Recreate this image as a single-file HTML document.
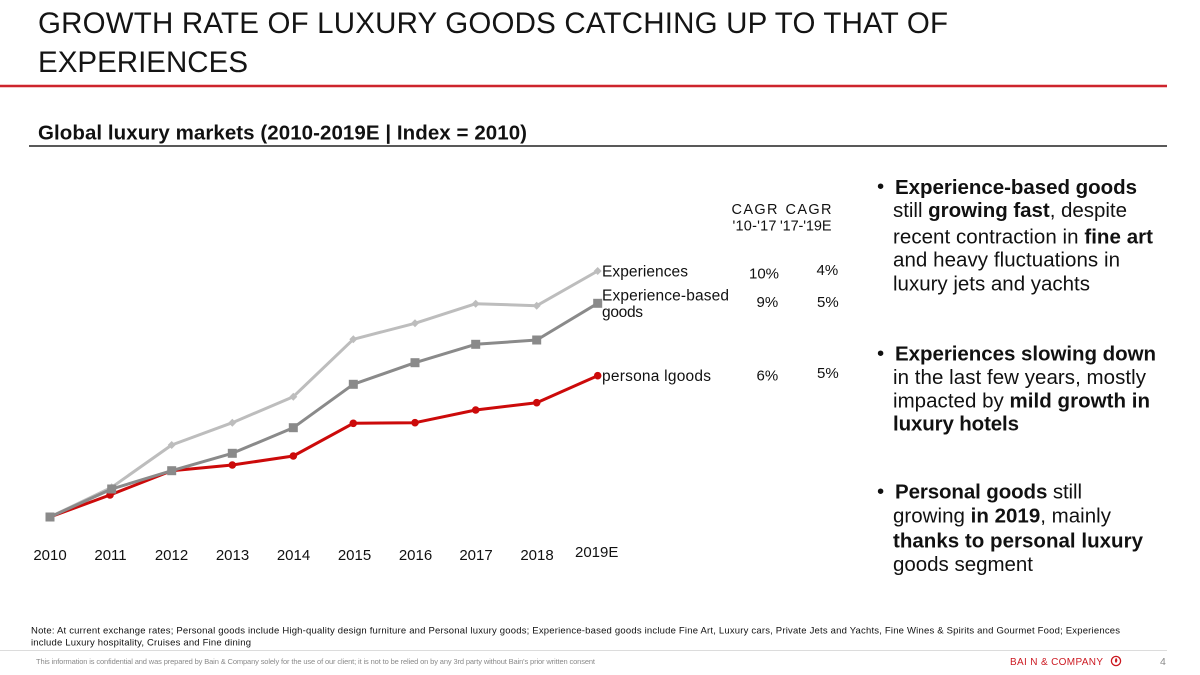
<!DOCTYPE html>
<html>
<head>
<meta charset="utf-8">
<style>
  html,body{margin:0;padding:0;background:#fff;}
  svg{display:block;}
  text{font-family:"Liberation Sans", Arial, sans-serif;}
</style>
</head>
<body>
<svg width="1200" height="675" viewBox="0 0 1200 675" xmlns="http://www.w3.org/2000/svg">
  <rect x="0" y="0" width="1200" height="675" fill="#ffffff"/>

  <!-- Title -->
  <text x="38" y="33" font-size="29.5" fill="#141414" textLength="910">GROWTH RATE OF LUXURY GOODS CATCHING UP TO THAT OF</text>
  <text x="38" y="72" font-size="29.5" fill="#141414" textLength="210">EXPERIENCES</text>

  <!-- red rule -->
  <line x1="0" y1="86" x2="1167" y2="86" stroke="#f0b4b4" stroke-width="3.5"/>
  <line x1="0" y1="86" x2="1167" y2="86" stroke="#c8101a" stroke-width="1.8"/>

  <!-- Subtitle -->
  <text x="38" y="139.5" font-size="20.5" font-weight="bold" fill="#111" textLength="489">Global luxury markets (2010-2019E | Index = 2010)</text>
  <line x1="29" y1="146" x2="1167" y2="146" stroke="#222" stroke-width="1.5"/>

  <!-- Experiences (light gray) -->
  <polyline fill="none" stroke="#bdbdbd" stroke-width="3" stroke-linejoin="round"
    points="50,517 111.7,487.3 171.7,445 232.3,422.7 293.3,396.7 353.3,339.3 415,323.3 475.7,303.7 536.7,305.7 597.7,271"/>
  <g fill="#bdbdbd">
    <path d="M50,513 L54,517 L50,521 L46,517 Z"/>
    <path d="M111.7,483.3 L115.7,487.3 L111.7,491.3 L107.7,487.3 Z"/>
    <path d="M171.7,441 L175.7,445 L171.7,449 L167.7,445 Z"/>
    <path d="M232.3,418.7 L236.3,422.7 L232.3,426.7 L228.3,422.7 Z"/>
    <path d="M293.3,392.7 L297.3,396.7 L293.3,400.7 L289.3,396.7 Z"/>
    <path d="M353.3,335.3 L357.3,339.3 L353.3,343.3 L349.3,339.3 Z"/>
    <path d="M415,319.3 L419,323.3 L415,327.3 L411,323.3 Z"/>
    <path d="M475.7,299.7 L479.7,303.7 L475.7,307.7 L471.7,303.7 Z"/>
    <path d="M536.7,301.7 L540.7,305.7 L536.7,309.7 L532.7,305.7 Z"/>
    <path d="M597.7,267 L601.7,271 L597.7,275 L593.7,271 Z"/>
  </g>

  <!-- Personal goods (red) -->
  <polyline fill="none" stroke="#cc0a0a" stroke-width="3" stroke-linejoin="round"
    points="50,517 110,495 171.7,470.7 232.3,465 293.3,456 353.3,423.3 415,422.7 475.7,410 536.7,402.7 597.7,375.7"/>
  <g fill="#cc0a0a">
    <circle cx="110" cy="495" r="3.8"/>
    <circle cx="232.3" cy="465" r="3.8"/>
    <circle cx="293.3" cy="456" r="3.8"/>
    <circle cx="353.3" cy="423.3" r="3.8"/>
    <circle cx="415" cy="422.7" r="3.8"/>
    <circle cx="475.7" cy="410" r="3.8"/>
    <circle cx="536.7" cy="402.7" r="3.8"/>
    <circle cx="597.7" cy="375.7" r="3.8"/>
  </g>

  <!-- Experience-based goods (mid gray) -->
  <polyline fill="none" stroke="#8a8a8a" stroke-width="3" stroke-linejoin="round"
    points="50,517 111.7,489 171.7,470.7 232.3,453.3 293.3,427.7 353.3,384.3 415,362.7 475.7,344.3 536.7,340 597.7,303.3"/>
  <g fill="#8a8a8a">
    <rect x="45.5" y="512.5" width="9" height="9"/>
    <rect x="107.2" y="484.5" width="9" height="9"/>
    <rect x="167.2" y="466.2" width="9" height="9"/>
    <rect x="227.8" y="448.8" width="9" height="9"/>
    <rect x="288.8" y="423.2" width="9" height="9"/>
    <rect x="348.8" y="379.8" width="9" height="9"/>
    <rect x="410.5" y="358.2" width="9" height="9"/>
    <rect x="471.2" y="339.8" width="9" height="9"/>
    <rect x="532.2" y="335.5" width="9" height="9"/>
    <rect x="593.2" y="298.8" width="9" height="9"/>
  </g>

  <!-- Year labels -->
  <g font-size="15" fill="#111" text-anchor="middle">
    <text x="50" y="560">2010</text>
    <text x="110.5" y="560">2011</text>
    <text x="171.5" y="560">2012</text>
    <text x="232.5" y="560">2013</text>
    <text x="293.5" y="560">2014</text>
    <text x="354.5" y="560">2015</text>
    <text x="415.5" y="560">2016</text>
    <text x="476" y="560">2017</text>
    <text x="537" y="560">2018</text>
  </g>
  <text x="575" y="557" font-size="15" fill="#111">2019E</text>

  <!-- Series labels -->
  <g font-size="15.5" fill="#111">
    <text x="602" y="276.5" textLength="86">Experiences</text>
    <text x="602" y="300.5" textLength="127">Experience-based</text>
    <text x="602" y="317" textLength="41">goods</text>
    <text x="602" y="381" textLength="109">persona lgoods</text>
  </g>

  <!-- CAGR header -->
  <g font-size="14.5" fill="#111">
    <text x="731.5" y="214" textLength="46">CAGR</text>
    <text x="785.5" y="214" textLength="46">CAGR</text>
    <text x="732.5" y="230.5" textLength="44">'10-'17</text>
    <text x="780" y="230.5" textLength="51.5">'17-'19E</text>
  </g>
  <!-- CAGR values -->
  <g font-size="15" fill="#111">
    <text x="749" y="278.5">10%</text>
    <text x="816.5" y="275">4%</text>
    <text x="756.5" y="307">9%</text>
    <text x="817" y="307">5%</text>
    <text x="756.5" y="380.5">6%</text>
    <text x="817" y="378">5%</text>
  </g>

  <!-- Bullets -->
  <g font-size="20.5" fill="#111">
    <text x="877" y="193">•</text>
    <text x="895" y="194" font-weight="bold" textLength="242">Experience-based goods</text>
    <text x="893" y="217" textLength="234">still <tspan font-weight="bold">growing fast</tspan>, despite</text>
    <text x="893" y="243.5" textLength="260">recent contraction in <tspan font-weight="bold">fine art</tspan></text>
    <text x="893" y="266.5" textLength="227">and heavy fluctuations in</text>
    <text x="893" y="290.5" textLength="197">luxury jets and yachts</text>

    <text x="877" y="360">•</text>
    <text x="895" y="360.5" font-weight="bold" textLength="261">Experiences slowing down</text>
    <text x="893" y="384" textLength="253">in the last few years, mostly</text>
    <text x="893" y="407.5" textLength="257">impacted by <tspan font-weight="bold">mild growth in</tspan></text>
    <text x="893" y="430.5" font-weight="bold" textLength="126">luxury hotels</text>

    <text x="877" y="498">•</text>
    <text x="895" y="498.5" textLength="187"><tspan font-weight="bold">Personal goods</tspan> still</text>
    <text x="893" y="522.5" textLength="218">growing <tspan font-weight="bold">in 2019</tspan>, mainly</text>
    <text x="893" y="547.5" font-weight="bold" textLength="250">thanks to personal luxury</text>
    <text x="893" y="571" textLength="140">goods segment</text>
  </g>

  <!-- Note -->
  <g font-size="9.5" fill="#111">
    <text x="31" y="633.5" textLength="1089">Note: At current exchange rates; Personal goods include High-quality design furniture and Personal luxury goods; Experience-based goods include Fine Art, Luxury cars, Private Jets and Yachts, Fine Wines &amp; Spirits and Gourmet Food; Experiences</text>
    <text x="31" y="645.5" textLength="220">include Luxury hospitality, Cruises and Fine dining</text>
  </g>

  <!-- Footer -->
  <line x1="0" y1="650.5" x2="1167" y2="650.5" stroke="#dcdcdc" stroke-width="1"/>
  <text x="36" y="664" font-size="7.5" fill="#8a8a8a" textLength="559">This information is confidential and was prepared by Bain &amp; Company solely for the use of our client; it is not to be relied on by any 3rd party without Bain's prior written consent</text>
  <text x="1010" y="665" font-size="10" fill="#cc1a22" textLength="93">BAI N &amp; COMPANY</text>
  <circle cx="1116" cy="661" r="4.6" fill="none" stroke="#cc1a22" stroke-width="1.3"/>
  <path d="M1116,657.8 C1117.6,659.6 1118,661 1116,663 C1114.4,661.6 1114.8,659.8 1116,657.8 Z" fill="#cc1a22"/>
  <text x="1160" y="665" font-size="10.5" fill="#8a8a8a">4</text>
</svg>
</body>
</html>
